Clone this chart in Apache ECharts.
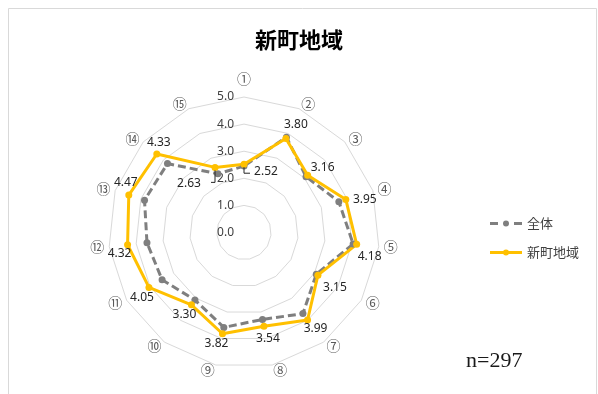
<!DOCTYPE html>
<html>
<head>
<meta charset="utf-8">
<script src="https://cdn.jsdelivr.net/npm/echarts@6/dist/echarts.min.js"></script>
<style>
  html, body { margin: 0; padding: 0; background: #fff; }
  #chart { width: 598px; height: 394px; }
</style>
</head>
<body>
<div id="chart"></div>
<script>
// Survey items (circled numbers) and mean scores on a 0–5 scale
const categories = ['①', '②', '③', '④', '⑤', '⑥', '⑦', '⑧', '⑨', '⑩', '⑪', '⑫', '⑬', '⑭', '⑮'];
const overallValues = [2.45, 3.85, 3.08, 3.68, 4.05, 3.08, 3.70, 3.28, 3.58, 3.08, 3.49, 3.60, 3.86, 3.80, 2.37];
const shinmachiValues = [2.52, 3.80, 3.16, 3.95, 4.18, 3.15, 3.99, 3.54, 3.82, 3.30, 4.05, 4.32, 4.47, 4.33, 2.63];
const seriesNames = ['全体', '新町地域'];
const titleText = '新町地域';
const sampleNote = 'n=297';
const scaleMin = 0;
const scaleMax = 5;

// Where each value label sits relative to its marker (dx, dy in px)
const labelOffsets = [
  [22, 7], [10, -14], [15, -8], [19, 0], [13, 12], [17, 12], [8, 9], [4, 12],
  [-6, 10], [-7, 10], [-7, 10], [-8, 9], [-3, -12], [2, -11], [-26, 16]
];
// Small leader lines for the two labels pulled away from their markers
// (item index, bends relative to the marker)
const leaderLines = [
  [0, [[0, 3], [0, 9], [6, 9]]],
  [14, [[0, 3], [0, 15], [-4, 15]]]
];

const GRAY = '#7f7f7f';
const GOLD = '#ffc000';
const NUM_FONT = 'Noto Sans, Liberation Sans, sans-serif';
const CJK_FONT = 'Noto Sans CJK JP, sans-serif';

// The radar lays axes out counter-clockwise, so feed them in reverse
// (keeping ① at the top) to read the items clockwise.
const order = [0];
for (let k = categories.length - 1; k >= 1; k--) order.push(k);
const pick = function (arr) { return order.map(function (k) { return arr[k]; }); };

// Rich styles: padding shifts each label away from its marker
const labelRich = {};
labelOffsets.forEach(function (o, i) {
  const dx = o[0], dy = o[1];
  labelRich['p' + i] = {
    fontSize: 12,
    fontFamily: NUM_FONT,
    color: '#262626',
    padding: [Math.max(0, 2 * dy), Math.max(0, -2 * dx), Math.max(0, -2 * dy), Math.max(0, 2 * dx)]
  };
});

// Legend icons: dashed line with a dot, and a solid line with a dot
const dot = 'M13,3 A3,3 0 1,1 19,3 A3,3 0 1,1 13,3 Z';
const dashedIcon = 'path://M0,1.5 L8,1.5 L8,4.5 L0,4.5 Z M24,1.5 L32,1.5 L32,4.5 L24,4.5 Z ' + dot;
const solidIcon = 'path://M0,1.5 L13.5,1.5 L13.5,4.5 L0,4.5 Z M18.5,1.5 L32,1.5 L32,4.5 L18.5,4.5 Z ' + dot;

const chart = echarts.init(document.getElementById('chart'), null, { renderer: 'canvas' });

const frameGraphics = [
  {
    type: 'rect',
    silent: true,
    shape: { x: 8.5, y: 8.5, width: 588, height: 400 },
    style: { fill: 'none', stroke: '#d9d9d9', lineWidth: 1 }
  },
  {
    type: 'text',
    left: 466,
    top: 350,
    style: { text: sampleNote, font: '22px "Liberation Serif", serif', fill: '#1a1a1a' }
  }
];

chart.setOption({
  backgroundColor: '#fff',
  animation: false,
  title: {
    text: titleText,
    left: 'center',
    top: 24,
    textStyle: { fontSize: 22, fontWeight: 'bold', color: '#000', fontFamily: CJK_FONT }
  },
  legend: {
    orient: 'vertical',
    left: 485,
    top: 212,
    itemWidth: 32,
    itemHeight: 6,
    itemGap: 16,
    textStyle: { fontSize: 13, color: '#404040', fontFamily: CJK_FONT },
    data: [
      { name: seriesNames[0], icon: dashedIcon },
      { name: seriesNames[1], icon: solidIcon }
    ]
  },
  radar: {
    center: [244, 232.5],
    radius: 135.5,
    startAngle: 90,
    splitNumber: 5,
    shape: 'polygon',
    nameGap: 5,
    indicator: pick(categories).map(function (c, i) {
      const ind = { name: c, min: scaleMin, max: scaleMax };
      if (i === 0) ind.axisLabel = { show: true };
      return ind;
    }),
    axisName: {
      color: '#595959',
      fontSize: 14,
      fontFamily: CJK_FONT,
      formatter: function (name) {
        return name === categories[0] ? '{top|' + name + '}' : name;
      },
      rich: { top: { padding: [0, 0, 6, 0], fontSize: 14, color: '#595959', fontFamily: CJK_FONT } }
    },
    splitLine: { lineStyle: { color: '#d9d9d9', width: 1 } },
    splitArea: { show: false },
    axisLine: { show: false },
    axisTick: { show: false },
    axisLabel: {
      show: false,
      color: '#404040',
      fontSize: 12,
      fontFamily: NUM_FONT,
      margin: 10,
      formatter: function (v) { return Number(v).toFixed(1); }
    }
  },
  series: [{
    type: 'radar',
    symbol: 'circle',
    symbolSize: 7,
    data: [
      {
        name: seriesNames[0],
        value: pick(overallValues),
        lineStyle: { color: GRAY, width: 3, type: [8, 4] },
        itemStyle: { color: GRAY }
      },
      {
        name: seriesNames[1],
        value: pick(shinmachiValues),
        lineStyle: { color: GOLD, width: 3, type: 'solid' },
        itemStyle: { color: GOLD },
        label: {
          show: true,
          position: 'inside',
          formatter: function (p) {
            const i = order[p.dimensionIndex];
            return '{p' + i + '|' + Number(p.value).toFixed(2) + '}';
          },
          rich: labelRich
        }
      }
    ]
  }],
  graphic: frameGraphics
});

// Leader lines start at the marker positions given by the radar's own scale
try {
  const radarCS = chart.getModel().getComponent('radar').coordinateSystem;
  const leaders = leaderLines.map(function (entry) {
    const item = entry[0];
    const base = radarCS.dataToPoint(shinmachiValues[item], order.indexOf(item));
    return {
      type: 'polyline',
      silent: true,
      z: 10,
      shape: { points: entry[1].map(function (d) { return [base[0] + d[0], base[1] + d[1]]; }) },
      style: { stroke: '#262626', lineWidth: 1, fill: 'none' }
    };
  });
  chart.setOption({ graphic: frameGraphics.concat(leaders) });
} catch (e) {
  // leader lines are decorative; the chart stands without them
}
</script>
</body>
</html>
